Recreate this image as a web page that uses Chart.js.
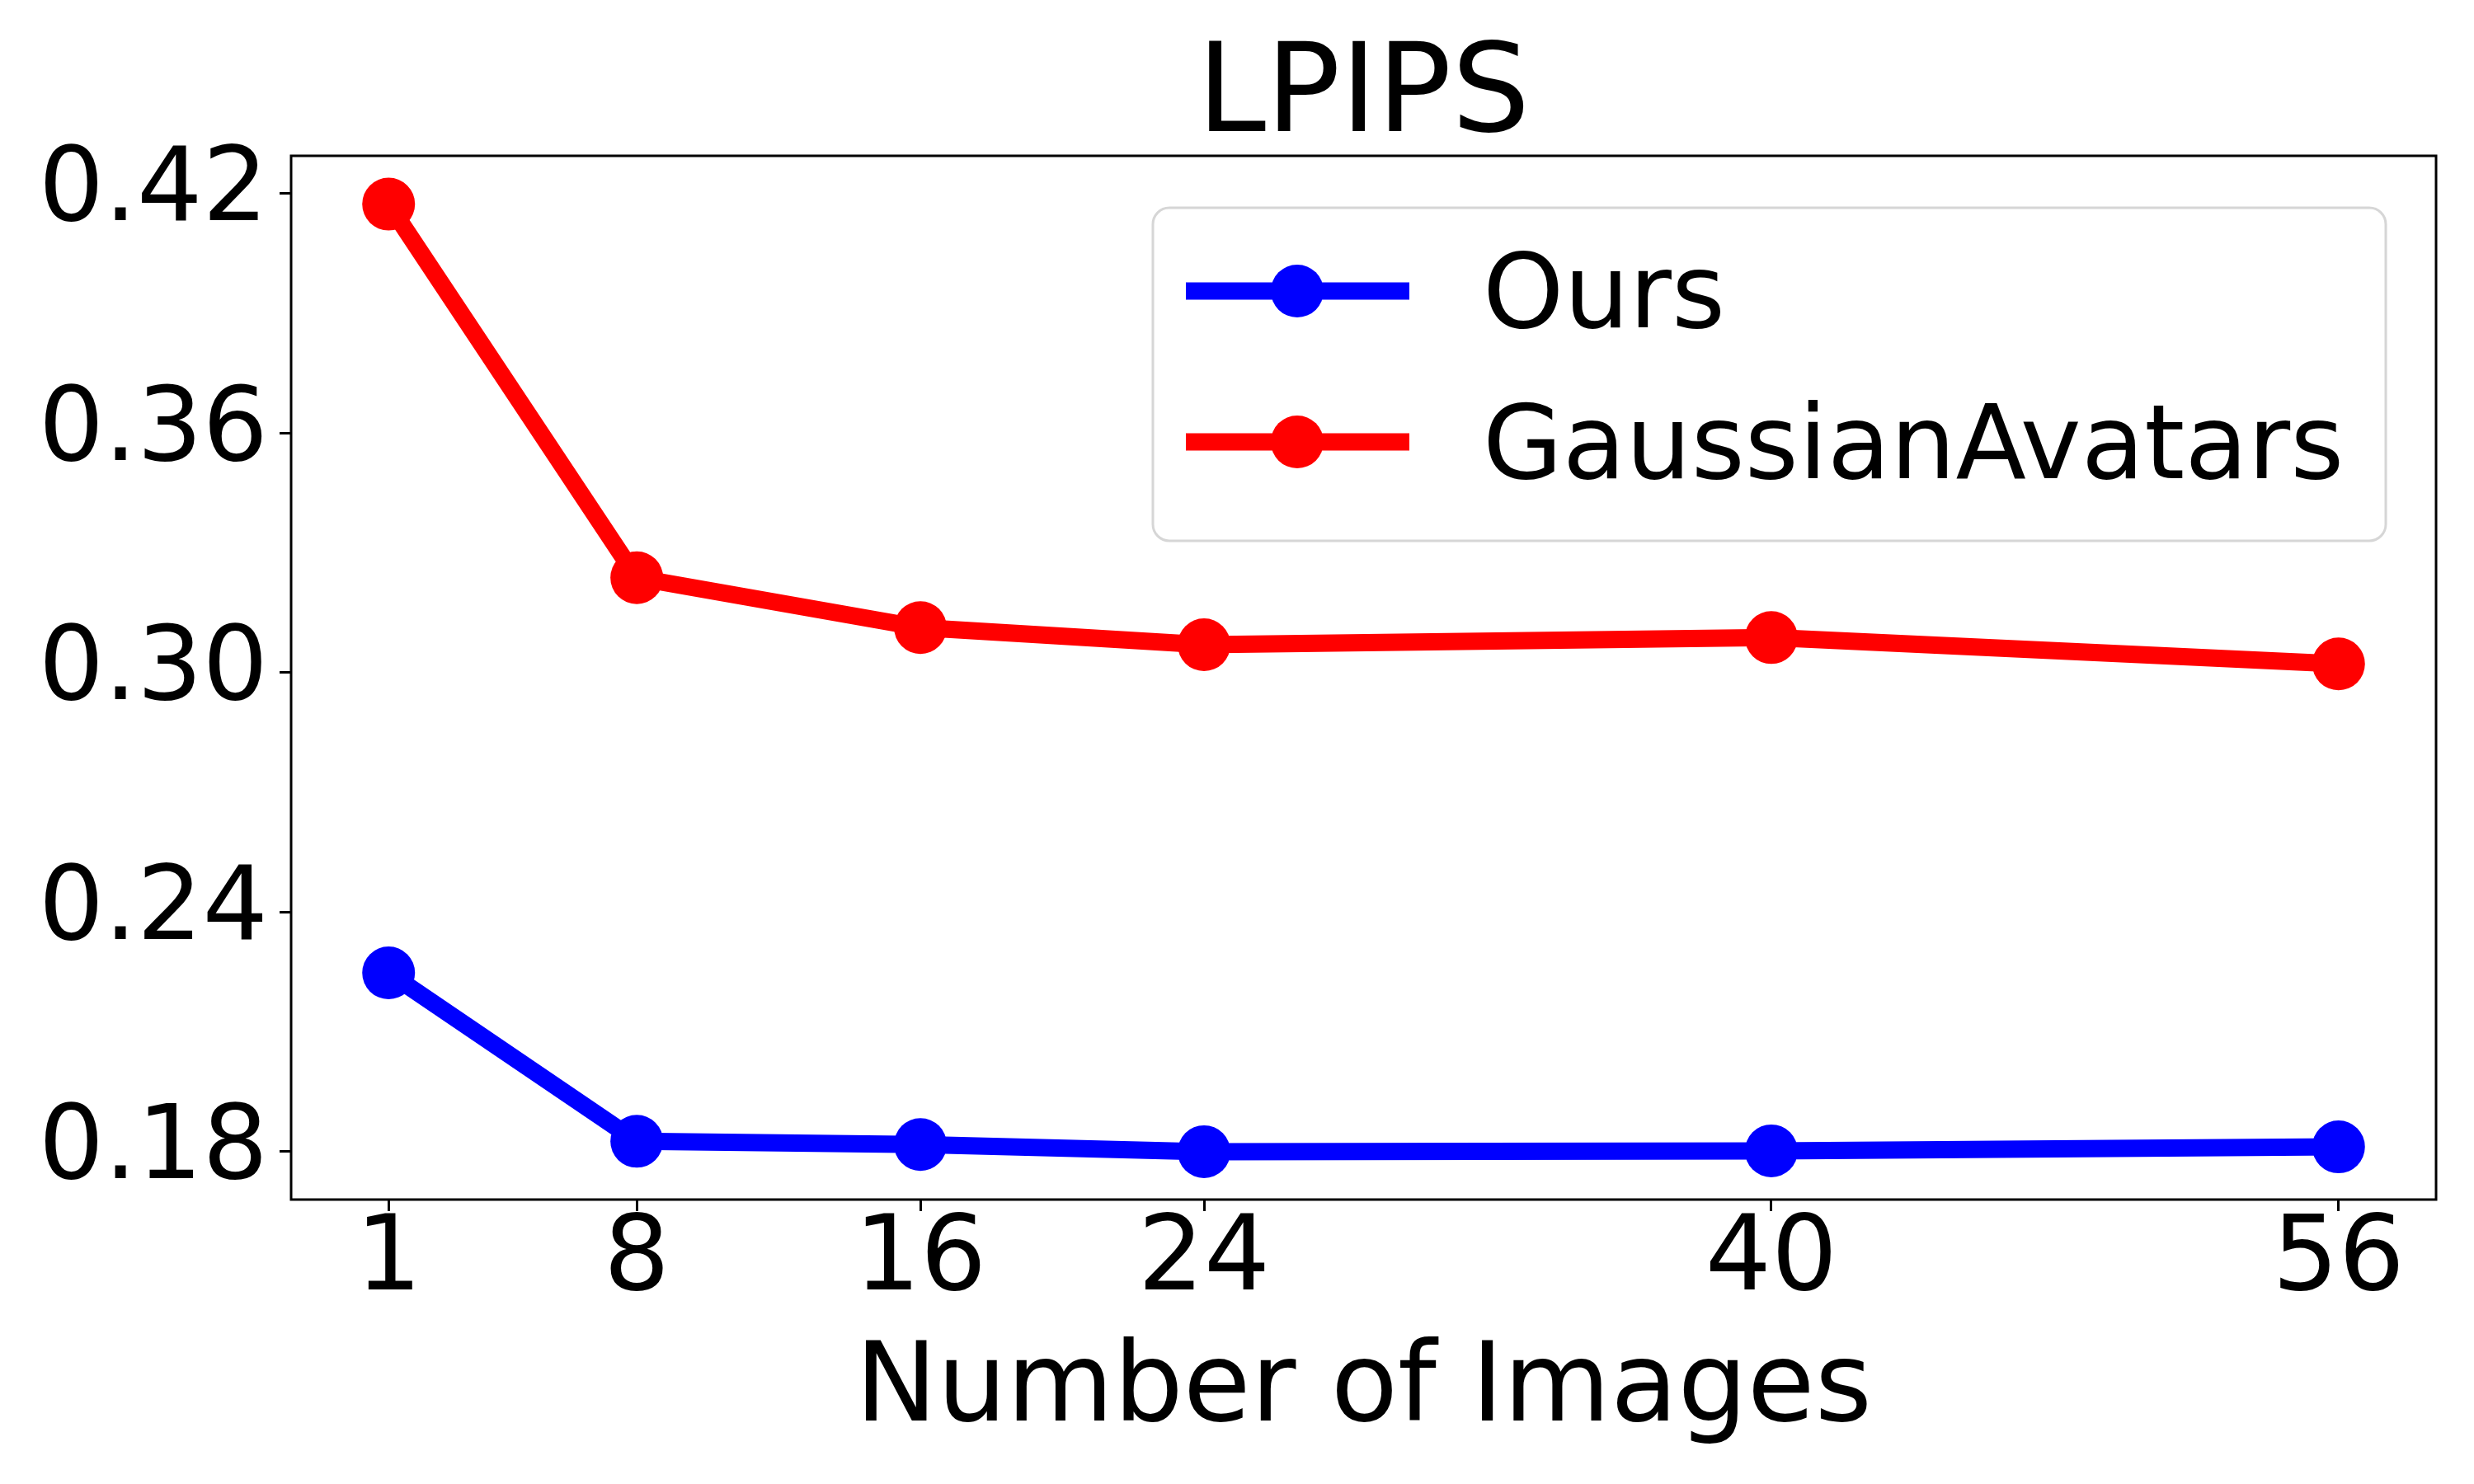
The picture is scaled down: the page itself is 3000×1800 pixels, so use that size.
<!DOCTYPE html>
<html>
<head>
<meta charset="utf-8">
<title>LPIPS</title>
<script src="https://cdn.jsdelivr.net/npm/chart.js@4.4.1/dist/chart.umd.min.js"></script>
<style>
    html, body { margin: 0; padding: 0; background: #ffffff; }
    #wrap { width: 3000px; height: 1800px; position: relative; }
</style>
</head>
<body>
<div id="wrap"><canvas id="mainChart"></canvas></div>
<script>
const chartTitle = 'LPIPS';
const xAxisLabel = 'Number of Images';
const numImages = [1, 8, 16, 24, 40, 56];
const oursLpips = [0.2248, 0.1826, 0.1818, 0.1800, 0.1802, 0.1812];
const gaLpips = [0.4174, 0.3238, 0.3113, 0.3070, 0.3088, 0.3022];
const xTicks = [1, 8, 16, 24, 40, 56];
const yTicks = [0.18, 0.24, 0.30, 0.36, 0.42];

const FONT = 'DejaVu Sans';

function toPoints(xs, ys) {
    return xs.map((x, i) => ({ x: x, y: ys[i] }));
}

// axes frame, title, x label and matplotlib-like legend
const decorPlugin = {
    id: 'decor',
    afterDraw(chart) {
        const { ctx, chartArea } = chart;
        const a = chartArea;
        ctx.save();

        ctx.strokeStyle = '#000000';
        ctx.lineWidth = 3;
        ctx.strokeRect(a.left, a.top, a.right - a.left, a.bottom - a.top);

        const cx = (a.left + a.right) / 2;
        ctx.fillStyle = '#000000';
        ctx.textAlign = 'center';
        ctx.textBaseline = 'alphabetic';
        ctx.font = `150px "${FONT}"`;
        ctx.fillText(chartTitle, cx, 159);
        ctx.font = `133px "${FONT}"`;
        ctx.fillText(xAxisLabel, cx, 1723);

        // legend
        const bx = 1398, by = 252, bw = 1495, bh = 404, r = 20;
        ctx.beginPath();
        ctx.moveTo(bx + r, by);
        ctx.arcTo(bx + bw, by, bx + bw, by + bh, r);
        ctx.arcTo(bx + bw, by + bh, bx, by + bh, r);
        ctx.arcTo(bx, by + bh, bx, by, r);
        ctx.arcTo(bx, by, bx + bw, by, r);
        ctx.closePath();
        ctx.fillStyle = 'rgba(255,255,255,0.8)';
        ctx.fill();
        ctx.strokeStyle = '#d6d6d6';
        ctx.lineWidth = 3;
        ctx.stroke();

        const rows = [353, 536];
        chart.data.datasets.forEach((ds, i) => {
            const y = rows[i];
            ctx.strokeStyle = ds.borderColor;
            ctx.lineWidth = 21;
            ctx.lineCap = 'butt';
            ctx.beginPath();
            ctx.moveTo(1438, y);
            ctx.lineTo(1709, y);
            ctx.stroke();
            ctx.fillStyle = ds.backgroundColor;
            ctx.beginPath();
            ctx.arc(1573, y, 32, 0, Math.PI * 2);
            ctx.fill();
            ctx.fillStyle = '#000000';
            ctx.textAlign = 'left';
            ctx.textBaseline = 'alphabetic';
            ctx.font = `125px "${FONT}"`;
            ctx.fillText(ds.label, 1798, y + 44);
        });
        ctx.restore();
    }
};

const ctx = document.getElementById('mainChart').getContext('2d');
new Chart(ctx, {
    type: 'line',
    data: {
        datasets: [
            {
                label: 'Ours',
                data: toPoints(numImages, oursLpips),
                borderColor: '#0000ff',
                backgroundColor: '#0000ff',
                borderWidth: 21,
                pointRadius: 32,
                pointHoverRadius: 32,
                pointBorderWidth: 0,
                borderJoinStyle: 'round',
                fill: false,
                tension: 0
            },
            {
                label: 'GaussianAvatars',
                data: toPoints(numImages, gaLpips),
                borderColor: '#ff0000',
                backgroundColor: '#ff0000',
                borderWidth: 21,
                pointRadius: 32,
                pointHoverRadius: 32,
                pointBorderWidth: 0,
                borderJoinStyle: 'round',
                fill: false,
                tension: 0
            }
        ]
    },
    options: {
        responsive: true,
        maintainAspectRatio: false,
        devicePixelRatio: 1,
        animation: false,
        events: [],
        layout: { padding: { top: 189, right: 46, bottom: 0, left: 0 } },
        scales: {
            x: {
                type: 'linear',
                min: -1.75,
                max: 58.75,
                afterBuildTicks: scale => { scale.ticks = xTicks.map(v => ({ value: v })); },
                afterFit: scale => { scale.height = 345; },
                grid: { drawOnChartArea: false, drawTicks: true, tickLength: 14, tickWidth: 3, tickColor: '#000000' },
                border: { display: false },
                ticks: {
                    autoSkip: false,
                    maxRotation: 0,
                    padding: 6,
                    color: '#000000',
                    font: { family: FONT, size: 126, lineHeight: 0.9 },
                    callback: value => String(value)
                }
            },
            y: {
                type: 'linear',
                min: 0.168,
                max: 0.4295,
                afterBuildTicks: scale => { scale.ticks = yTicks.map(v => ({ value: v })); },
                afterFit: scale => { scale.width = 353; },
                grid: { drawOnChartArea: false, drawTicks: true, tickLength: 14, tickWidth: 3, tickColor: '#000000' },
                border: { display: false },
                ticks: {
                    autoSkip: false,
                    padding: 14,
                    color: '#000000',
                    font: { family: FONT, size: 125, lineHeight: 1 },
                    callback: value => value.toFixed(2)
                }
            }
        },
        plugins: {
            legend: { display: false },
            title: { display: false },
            tooltip: { enabled: false }
        }
    },
    plugins: [decorPlugin]
});
</script>
</body>
</html>
